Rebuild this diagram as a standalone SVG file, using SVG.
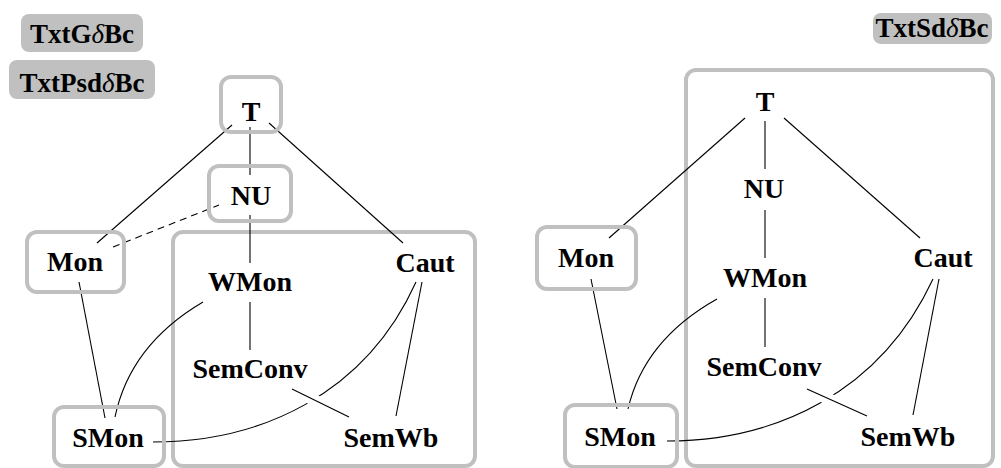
<svg xmlns="http://www.w3.org/2000/svg" width="1001" height="468" viewBox="0 0 1001 468">
  <style>
    .lbl { font-family: "Liberation Serif", "DejaVu Serif", serif; font-weight: bold; font-size: 28px; fill: #000; text-anchor: middle; }
    .bt { font-size: 27px; }
    .d { font-style: italic; font-weight: normal; }
    .box { fill: none; stroke: #c0c0c0; stroke-width: 4; }
    .badge { fill: #c0c0c0; stroke: none; }
    .e { fill: none; stroke: #000; stroke-width: 1.1; }
    .dash { stroke-dasharray: 7 5; }
    .halo { fill: none; stroke: #fff; stroke-width: 12; }
  </style>

  <!-- badges -->
  <g id="badge-txtg">
    <rect class="badge" x="21" y="14" width="122" height="38" rx="8"/>
    <text class="lbl bt" x="82" y="43">TxtG<tspan class="d">δ</tspan>Bc</text>
  </g>
  <g id="badge-txtpsd">
    <rect class="badge" x="9" y="60" width="146" height="39" rx="8"/>
    <text class="lbl bt" x="82" y="92">TxtPsd<tspan class="d">δ</tspan>Bc</text>
  </g>
  <g id="badge-txtsd">
    <rect class="badge" x="873" y="13" width="119" height="31" rx="8"/>
    <text class="lbl bt" x="932" y="37">TxtSd<tspan class="d">δ</tspan>Bc</text>
  </g>

  <!-- group frames -->
  <g id="frames">
    <rect class="box" x="173" y="232" width="302" height="234" rx="10"/>
    <rect class="box" x="686" y="70" width="307" height="396" rx="10"/>
  </g>

  <!-- connectors, left lattice -->
  <g id="edges-left">
    <line class="e" x1="232" y1="125" x2="97" y2="243"/>
    <line class="e" x1="250" y1="127" x2="250" y2="175"/>
    <line class="e" x1="269" y1="123" x2="403" y2="243"/>
    <line class="e dash" x1="113" y1="247" x2="219" y2="205"/>
    <line class="e" x1="250" y1="215" x2="250" y2="263"/>
    <line class="e" x1="250" y1="302" x2="250" y2="350"/>
    <line class="e" x1="79" y1="282" x2="105" y2="418"/>
    <path class="e" d="M203,302 Q130,345 115,417"/>
    <path class="e" d="M153,442 C260,442 365,395 416,282"/>
    <line class="e" x1="422" y1="282" x2="396" y2="416"/>
    <line class="halo" x1="300" y1="393" x2="340" y2="413"/>
    <line class="e" x1="292" y1="389" x2="349" y2="417"/>
  </g>

  <!-- connectors, right lattice -->
  <g id="edges-right">
    <line class="e" x1="745" y1="118" x2="609" y2="238"/>
    <line class="e" x1="765" y1="121" x2="765" y2="169"/>
    <line class="e" x1="784" y1="118" x2="920" y2="238"/>
    <line class="e" x1="765" y1="210" x2="765" y2="258"/>
    <line class="e" x1="765" y1="298" x2="765" y2="347"/>
    <line class="e" x1="591" y1="279" x2="617" y2="409"/>
    <path class="e" d="M717,299 Q644,340 628,409"/>
    <path class="e" d="M667,441 C775,441 880,393 933,279"/>
    <line class="e" x1="939" y1="279" x2="913" y2="415"/>
    <line class="halo" x1="815" y1="393" x2="858" y2="412"/>
    <line class="e" x1="807" y1="389" x2="867" y2="416"/>
  </g>

  <!-- left lattice nodes -->
  <g id="l-T">
    <rect class="box" x="221" y="77" width="60" height="55" rx="10"/>
    <text class="lbl" x="251" y="121">T</text>
  </g>
  <g id="l-NU">
    <rect class="box" x="209" y="166" width="82" height="55" rx="10"/>
    <text class="lbl" x="251" y="205">NU</text>
  </g>
  <g id="l-Mon">
    <rect class="box" x="27" y="232" width="97" height="60" rx="10"/>
    <text class="lbl" x="75" y="271">Mon</text>
  </g>
  <g id="l-WMon"><text class="lbl" x="250" y="291">WMon</text></g>
  <g id="l-Caut"><text class="lbl" x="425" y="272">Caut</text></g>
  <g id="l-SemConv"><text class="lbl" x="250" y="378">SemConv</text></g>
  <g id="l-SMon">
    <rect class="box" x="54" y="407" width="110" height="59" rx="10"/>
    <text class="lbl" x="108" y="447">SMon</text>
  </g>
  <g id="l-SemWb"><text class="lbl" x="391" y="447">SemWb</text></g>

  <!-- right lattice nodes -->
  <g id="r-T"><text class="lbl" x="765" y="111">T</text></g>
  <g id="r-NU"><text class="lbl" x="764" y="198">NU</text></g>
  <g id="r-Mon">
    <rect class="box" x="537" y="227" width="99" height="62" rx="10"/>
    <text class="lbl" x="586" y="267">Mon</text>
  </g>
  <g id="r-WMon"><text class="lbl" x="765" y="287">WMon</text></g>
  <g id="r-Caut"><text class="lbl" x="943" y="267">Caut</text></g>
  <g id="r-SemConv"><text class="lbl" x="764" y="376">SemConv</text></g>
  <g id="r-SMon">
    <rect class="box" x="565" y="405" width="112" height="62" rx="10"/>
    <text class="lbl" x="620" y="446">SMon</text>
  </g>
  <g id="r-SemWb"><text class="lbl" x="908" y="446">SemWb</text></g>
</svg>
